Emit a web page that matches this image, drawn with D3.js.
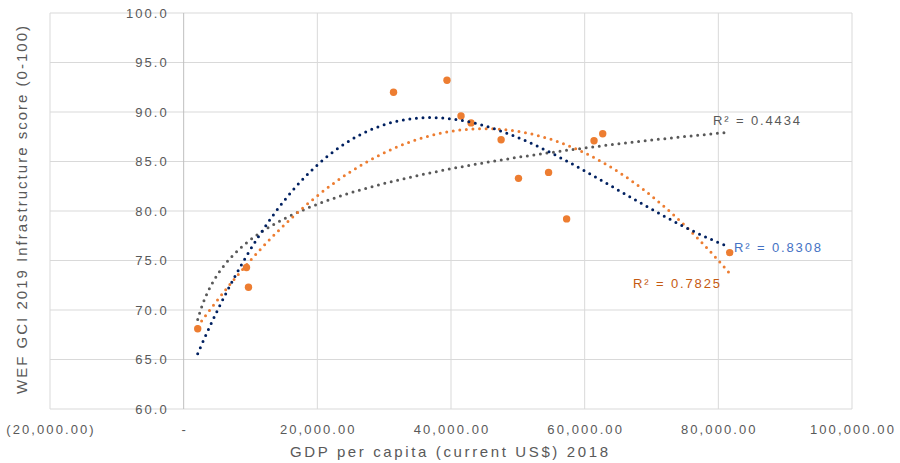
<!DOCTYPE html>
<html>
<head>
<meta charset="utf-8">
<script src="https://cdn.jsdelivr.net/npm/d3@7"></script>
<style>
  body { margin: 0; background: #fff; }
  text { font-family: "Liberation Sans", Arial, sans-serif; fill: #595959; }
</style>
</head>
<body>
<script>
// GDP per capita vs infrastructure score, with three Excel-style trendlines

const gdp = [2100, 9400, 9700, 31400, 39400, 41500, 43000, 47500, 50100, 54600, 57300, 61400, 62700, 81700];
const infra = [68.1, 74.3, 72.3, 92.0, 93.2, 89.6, 88.9, 87.2, 83.3, 83.9, 79.2, 87.1, 87.8, 75.8];

const xTicks = [-20000, 0, 20000, 40000, 60000, 80000, 100000];
const yTicks = [60, 65, 70, 75, 80, 85, 90, 95, 100];

const r2Labels = ["R² = 0.4434", "R² = 0.7825", "R² = 0.8308"];

const W = 900, H = 463;
const M = { left: 50, right: 48, top: 13, bottom: 54 };

const svg = d3.select("body").append("svg")
  .attr("width", W)
  .attr("height", H);

const x = d3.scaleLinear().domain([-20000, 100000]).range([M.left, W - M.right]);
const y = d3.scaleLinear().domain([60, 100]).range([H - M.bottom, M.top]);

// gridlines
svg.append("g").selectAll("line").data(yTicks).join("line")
  .attr("x1", x(-20000)).attr("x2", x(100000))
  .attr("y1", d => y(d)).attr("y2", d => y(d))
  .attr("stroke", "#d9d9d9").attr("stroke-width", 1);
svg.append("g").selectAll("line").data(xTicks).join("line")
  .attr("x1", d => x(d)).attr("x2", d => x(d))
  .attr("y1", y(60)).attr("y2", y(100))
  .attr("stroke", d => d === 0 ? "#bfbfbf" : "#d9d9d9").attr("stroke-width", 1);

// y tick labels sit next to the vertical axis at x = 0
svg.append("g").selectAll("text").data(yTicks).join("text")
  .attr("x", x(0) - 15).attr("y", d => y(d) + 4.7)
  .attr("text-anchor", "end")
  .style("font-size", "13px").style("letter-spacing", "2px")
  .text(d => d3.format(".1f")(d));

const fmtX = d => d === 0 ? "-" : d < 0 ? "(" + d3.format(",.2f")(-d) + ")" : d3.format(",.2f")(d);
svg.append("g").selectAll("text").data(xTicks).join("text")
  .attr("x", d => x(d) + 1).attr("y", 433.5)
  .attr("text-anchor", "middle")
  .style("font-size", "13px").style("letter-spacing", "2.1px")
  .text(fmtX);

// axis titles
svg.append("text")
  .attr("x", 449).attr("y", 457)
  .attr("text-anchor", "middle")
  .attr("textLength", 318).attr("lengthAdjust", "spacing")
  .style("font-size", "15px")
  .text("GDP per capita (current US$) 2018");

svg.append("text")
  .attr("transform", `translate(27,210) rotate(-90)`)
  .attr("text-anchor", "middle")
  .attr("textLength", 368).attr("lengthAdjust", "spacing")
  .style("font-size", "15px")
  .text("WEF GCI 2019 Infrastructure score (0-100)");

// markers
svg.append("g").selectAll("circle").data(gdp).join("circle")
  .attr("cx", d => x(d))
  .attr("cy", (d, i) => y(infra[i]))
  .attr("r", 3.7)
  .attr("fill", "#ed7d31");

/*********************
 * Trendline fitting *
 *********************/
// least squares on basis functions, solved by gaussian elimination
function fit(basis) {
  const n = basis.length;
  const A = Array.from({ length: n }, () => new Array(n + 1).fill(0));
  gdp.forEach((g, k) => {
    const f = basis.map(b => b(g / 1000));
    for (let i = 0; i < n; i++) {
      for (let j = 0; j < n; j++) A[i][j] += f[i] * f[j];
      A[i][n] += f[i] * infra[k];
    }
  });
  for (let i = 0; i < n; i++) {
    let p = i;
    for (let r = i + 1; r < n; r++) if (Math.abs(A[r][i]) > Math.abs(A[p][i])) p = r;
    [A[i], A[p]] = [A[p], A[i]];
    for (let r = 0; r < n; r++) {
      if (r === i) continue;
      const c = A[r][i] / A[i][i];
      for (let col = i; col <= n; col++) A[r][col] -= c * A[i][col];
    }
  }
  const coef = A.map((row, i) => row[n] / row[i]);
  return g => basis.reduce((s, b, i) => s + coef[i] * b(g / 1000), 0);
}

const logFit = fit([t => 1, t => Math.log(t)]);
const poly2 = fit([t => 1, t => t, t => t * t]);
const poly3 = fit([t => 1, t => t, t => t * t, t => t * t * t]);

const xs = d3.range(0, 201).map(i => d3.min(gdp) + (d3.max(gdp) - d3.min(gdp)) * i / 200);
const line = f => d3.line().x(d => x(d)).y(d => y(f(d)))(xs);

const trends = [
  { f: logFit, color: "#595959" },
  { f: poly2, color: "#ed7d31" },
  { f: poly3, color: "#002060" }
];
svg.append("g").selectAll("path").data(trends).join("path")
  .attr("d", d => line(d.f))
  .attr("fill", "none")
  .attr("stroke", d => d.color)
  .attr("stroke-width", 3)
  .attr("stroke-linecap", "round")
  .attr("stroke-dasharray", "0 6.6");

// R² labels
const labelPos = [
  { x: 713, y: 125, color: "#595959" },
  { x: 633, y: 288, color: "#c55a11" },
  { x: 734, y: 252, color: "#4472c4" }
];
svg.append("g").selectAll("text").data(r2Labels).join("text")
  .attr("x", (d, i) => labelPos[i].x).attr("y", (d, i) => labelPos[i].y)
  .attr("textLength", 87).attr("lengthAdjust", "spacing")
  .style("font-size", "13px")
  .style("fill", (d, i) => labelPos[i].color)
  .text(d => d);
</script>
</body>
</html>
